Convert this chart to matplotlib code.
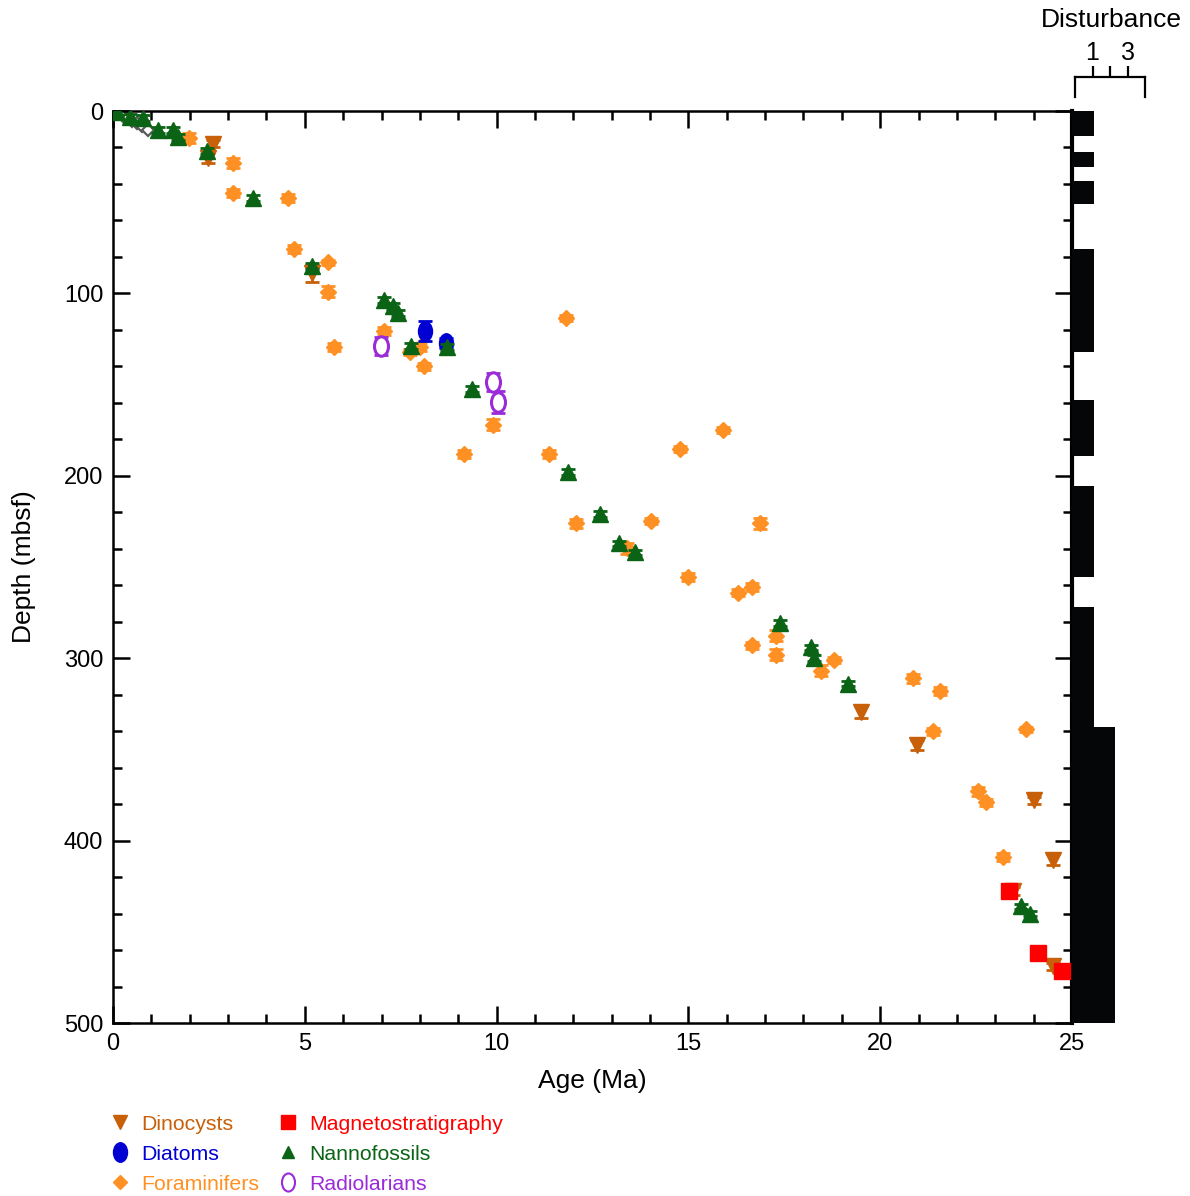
import matplotlib
matplotlib.use("Agg")
import matplotlib.pyplot as plt
from matplotlib.lines import Line2D
from matplotlib.markers import MarkerStyle
from matplotlib.transforms import Affine2D
from matplotlib.ticker import MultipleLocator

plt.rcParams['font.family'] = ['Liberation Sans', 'DejaVu Sans']

# --- dane: wiek (Ma), glebokosc (mbsf), blad glebokosci (m) ---
dino_age = [2.6, 2.48, 5.19, 19.5, 20.96, 24.0, 24.5, 23.46, 24.5]
dino_depth = [18, 25.8, 89, 329.5, 347.6, 378, 410.6, 427.6, 469]
dino_err = [2, 2.5, 4.5, 3.5, 2.5, 2, 3, 2, 2]

diat_age = [8.13, 8.68]
diat_depth = [120.6, 127.2]
diat_err = [5.5, 2.5]

foram_age = [1.98, 3.13, 3.13, 4.56, 4.72, 5.6, 5.6, 5.76, 7.06, 7.74, 8.0, 8.1,
             11.81, 9.9, 9.15, 11.37, 12.07, 13.4, 14.03, 14.78, 15.9, 15.0, 16.3,
             16.66, 16.87, 16.66, 17.28, 17.28, 18.46, 18.8, 20.86, 21.56, 21.38,
             23.8, 22.55, 22.76, 23.2]
foram_depth = [14.8, 28.5, 45, 47.7, 75.7, 83, 99, 129.4, 120.6, 132, 129.4, 140,
               113.5, 172, 188, 188, 226, 239.6, 224.8, 185.3, 174.9, 255.5, 264,
               261, 225.9, 293, 287.8, 298, 307, 301, 311, 318, 340,
               339, 373, 379, 409]
foram_err = [2.5, 2.5, 2, 2, 2, 1.5, 3, 2, 2, 1.5, 2, 2,
             1.5, 3, 2, 2, 2.5, 3, 1.5, 1.5, 1.5, 2, 2,
             2, 3, 2, 3, 3, 3, 1.5, 2.5, 2, 2,
             1.5, 2.5, 2, 2]

magn_age = [23.36, 24.11, 24.74]
magn_depth = [427.6, 461.6, 471.5]

nanno_age = [0.1, 0.44, 0.78, 1.17, 1.56, 1.7, 2.45, 3.65, 5.19, 7.06, 7.3, 7.43,
             7.77, 8.7, 9.36, 11.86, 12.7, 13.2, 13.6, 17.4, 18.2, 18.27, 19.16,
             23.67, 23.9]
nanno_depth = [0.5, 3.3, 3.8, 10.4, 10.4, 14.3, 22, 47.7, 85, 103.6, 107, 110.7,
               128.8, 129.4, 152.4, 198, 221, 237, 242, 280.7, 294, 300, 314,
               436, 440]
nanno_err = [1.5, 1.5, 1.5, 1.5, 1.5, 1.5, 1.5, 1.5, 1.5, 1.5, 1.5, 1.5,
             1.5, 1.5, 1.5, 1.5, 1.5, 1.5, 1.5, 1.5, 1.5, 1.5, 1.5,
             1.5, 1.5]

radio_age = [6.99, 9.9, 10.04]
radio_depth = [128.8, 148.6, 159.5]
radio_err = [5, 5, 6]

# szare punkty przy poczatku (bez legendy)
gray_age = [0.0, 0.12, 0.25, 0.38, 0.5, 0.62, 0.75, 0.9]
gray_depth = [0, 1.3, 2.6, 4, 5.4, 6.8, 8.4, 10.2]

# zaburzenie (disturbance) rdzenia
dist_top = [0, 22.5, 38.4, 75.6, 158.4, 205.6, 272, 337.7]
dist_bot = [13.7, 30.7, 51, 132, 189, 255.5, 337.7, 500]
dist_level = [1, 1, 1, 1, 1, 1, 1, 2]

C_DINO = '#C8600A'
C_DIAT = '#0000D2'
C_FORAM = '#FF9124'
C_MAGN = '#FF0000'
C_NANNO = '#0B6415'
C_RADIO = '#9B2BD9'

W, H = 1190, 1196
fig = plt.figure(figsize=(W / 100, H / 100), dpi=100)


def px_axes(x0, x1, y0, y1):
    return fig.add_axes([x0 / W, 1 - y1 / H, (x1 - x0) / W, (y1 - y0) / H])


ax = px_axes(113, 1072, 111, 1023)
ellipse = MarkerStyle('o', transform=Affine2D().scale(0.72, 1.0))


def seria(x, y, err, marker, color, ms, face=None, mew=1.0):
    ax.errorbar(x, y, yerr=err, fmt='none', ecolor=color, capsize=5,
                elinewidth=2, capthick=2, zorder=3)
    ax.plot(x, y, linestyle='none', marker=marker, color=color, markersize=ms,
            markerfacecolor=face if face else color, markeredgewidth=mew, zorder=3)


ax.plot(gray_age, gray_depth, linestyle='none', marker='D', markersize=6,
        markerfacecolor='white', markeredgecolor='#5a5a5a', markeredgewidth=1.6, zorder=2)

seria(foram_age, foram_depth, foram_err, 'D', C_FORAM, 8.5)
seria(dino_age, dino_depth, dino_err, 'v', C_DINO, 11.5)
seria(diat_age, diat_depth, diat_err, ellipse, C_DIAT, 14)
seria(nanno_age, nanno_depth, nanno_err, '^', C_NANNO, 11)
seria(radio_age, radio_depth, radio_err, ellipse, C_RADIO, 14, face='white', mew=2.2)
ax.plot(magn_age, magn_depth, linestyle='none', marker='s', color=C_MAGN,
        markersize=11, zorder=4)

ax.set_xlim(0, 25)
ax.set_ylim(500, 0)
ax.xaxis.set_major_locator(MultipleLocator(5))
ax.xaxis.set_minor_locator(MultipleLocator(1))
ax.yaxis.set_major_locator(MultipleLocator(100))
ax.yaxis.set_minor_locator(MultipleLocator(20))
ax.tick_params(which='both', direction='in', top=True, right=True, width=1.8,
               labelsize=17, pad=7)
ax.tick_params(which='major', length=12)
ax.tick_params(which='minor', length=6.5)
for s in ['left', 'top', 'bottom']:
    ax.spines[s].set_linewidth(1.8)
ax.spines['right'].set_linewidth(3)
ax.set_xlabel('Age (Ma)', fontsize=19, labelpad=10)
ax.set_ylabel('Depth (mbsf)', fontsize=19, labelpad=20)

# kolumna zaburzenia
axd = px_axes(1072, 1160, 111, 1023)
axd.barh(dist_top, dist_level, height=[b - t for t, b in zip(dist_top, dist_bot)],
         left=0, align='edge', color='#050608', edgecolor='none')
axd.set_ylim(500, 0)
axd.set_xlim(0, 88 / 21.5)
axd.axis('off')

# skala zaburzenia
axs = px_axes(1075, 1145, 77, 97)
axs.set_xlim(0, 4)
axs.set_ylim(0, 1)
axs.spines['bottom'].set_visible(False)
for s in ['top', 'left', 'right']:
    axs.spines[s].set_linewidth(1.6)
axs.set_yticks([])
axs.set_xticks([1, 2, 3])
axs.set_xticklabels(['1', '', '3'])
axs.tick_params(axis='x', bottom=False, top=True, labelbottom=False, labeltop=True,
                direction='out', length=8, width=1.6, labelsize=18, pad=1)
fig.text(1111 / W, 1 - 20 / H, 'Disturbance', ha='center', va='center', fontsize=19)

# legenda
handles = [
    Line2D([], [], linestyle='none', marker='v', color=C_DINO, markersize=10),
    Line2D([], [], linestyle='none', marker=ellipse, color=C_DIAT, markersize=14),
    Line2D([], [], linestyle='none', marker='D', color=C_FORAM, markersize=7),
    Line2D([], [], linestyle='none', marker='s', color=C_MAGN, markersize=10),
    Line2D([], [], linestyle='none', marker='^', color=C_NANNO, markersize=9),
    Line2D([], [], linestyle='none', marker=ellipse, color=C_RADIO, markersize=13,
           markerfacecolor='white', markeredgewidth=1.5),
]
labels = ['Dinocysts', 'Diatoms', 'Foraminifers', 'Magnetostratigraphy',
          'Nannofossils', 'Radiolarians']
fig.legend(handles, labels, ncol=2, loc='upper left',
           bbox_to_anchor=(101 / W, 1 - 1106 / H), frameon=False, fontsize=15.3,
           labelcolor=[C_DINO, C_DIAT, C_FORAM, C_MAGN, C_NANNO, C_RADIO],
           handlelength=1.0, handletextpad=0.5, columnspacing=0.85, labelspacing=0.52,
           borderaxespad=0)

fig.savefig('out.png', dpi=100)
